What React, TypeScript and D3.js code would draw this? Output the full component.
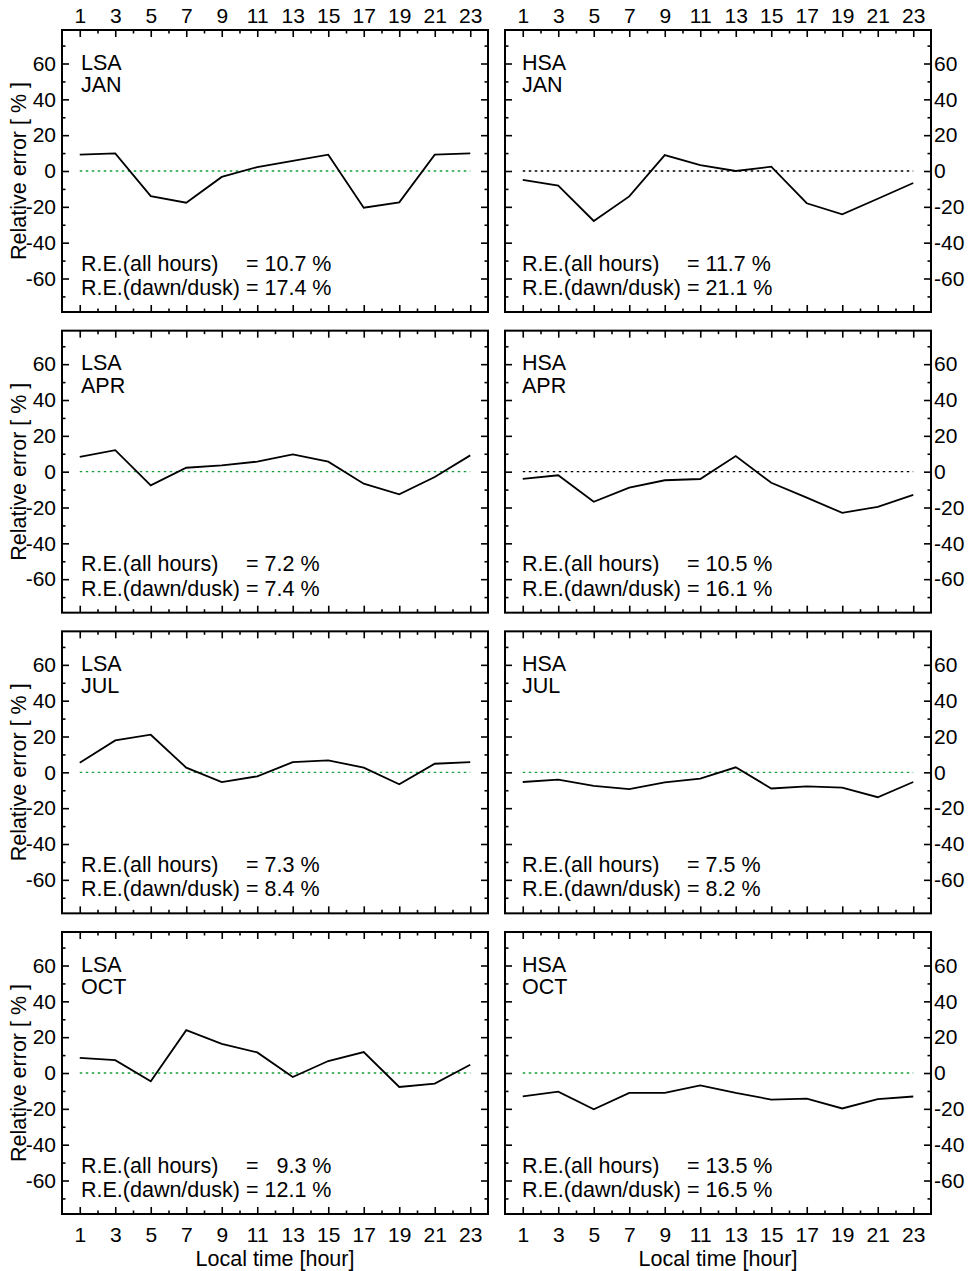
import { useEffect, useRef } from 'react';
import * as d3 from 'd3';

// local time of each sample [hour]
const hours = [1, 3, 5, 7, 9, 11, 13, 15, 17, 19, 21, 23];
const months = ['JAN', 'APR', 'JUL', 'OCT'];

// relative error [%] per local hour
const lsaJan = [9.1, 9.8, -14, -17.7, -3.3, 2.2, 5.7, 9.1, -20.5, -17.5, 9.1, 9.8];
const hsaJan = [-5, -8.2, -27.9, -14.2, 8.9, 3.3, 0, 2.4, -18, -24.2, -15.5, -6.7];
const lsaApr = [8.3, 12, -7.6, 2.2, 3.5, 5.6, 9.6, 5.6, -6.7, -12.6, -3, 9.1];
const hsaApr = [-4, -2, -16.8, -8.9, -4.8, -4.1, 8.7, -6.2, -14.5, -23, -19.6, -12.9];
const lsaJul = [5.4, 17.8, 21, 2.6, -5.4, -2.2, 5.7, 6.7, 2.6, -6.7, 4.8, 5.7];
const hsaJul = [-5.4, -4.1, -7.6, -9.4, -5.6, -3.5, 2.8, -9, -7.8, -8.5, -13.9, -5.4];
const lsaOct = [8.5, 7.2, -4.6, 23.9, 16.3, 11.5, -2.2, 6.7, 11.7, -7.8, -5.9, 4.6];
const hsaOct = [-13, -10.4, -20.2, -11.1, -11.1, -6.9, -11.1, -14.8, -14.3, -19.8, -14.6, -13.1];

// R.E. summary values
const lsaAllHours = ['10.7', '7.2', '7.3', '9.3'];
const lsaDawnDusk = ['17.4', '7.4', '8.4', '12.1'];
const hsaAllHours = ['11.7', '10.5', '7.5', '13.5'];
const hsaDawnDusk = ['21.1', '16.1', '8.2', '16.5'];

// zero reference line drawn green (true) or black (false)
const lsaZeroGreen = [true, true, true, true];
const hsaZeroGreen = [false, false, true, true];

const yTicks = [-60, -40, -20, 0, 20, 40, 60];
const yMinor = [-70, -50, -30, -10, 10, 30, 50, 70];
const xMinor = [2, 4, 6, 8, 10, 12, 14, 16, 18, 20, 22];

const FONT = '"Liberation Sans", Arial, Helvetica, sans-serif';

export default function App() {
  const ref = useRef<SVGSVGElement | null>(null);

  useEffect(() => {
    const svg = d3.select(ref.current);
    svg.selectAll('*').remove();

    const W = 426;
    const H = 282;
    const lefts = [62, 505];
    const tops = months.map((_, i) => 30 + i * 300.67);

    const x = d3.scaleLinear().domain([0, 24]).range([0, W]);
    const y = d3.scaleLinear().domain([-78.7, 78.7]).range([H, 0]);

    const lsa = [lsaJan, lsaApr, lsaJul, lsaOct];
    const hsa = [hsaJan, hsaApr, hsaJul, hsaOct];

    const panels: any[] = [];
    months.forEach((m, r) => {
      panels.push({ col: 0, row: r, tag: 'LSA', month: m, values: lsa[r], all: lsaAllHours[r], dawn: lsaDawnDusk[r], green: lsaZeroGreen[r] });
      panels.push({ col: 1, row: r, tag: 'HSA', month: m, values: hsa[r], all: hsaAllHours[r], dawn: hsaDawnDusk[r], green: hsaZeroGreen[r] });
    });

    const line = d3
      .line<number>()
      .x((_d, i) => x(hours[i]))
      .y((d) => y(d));

    const fmt = (d: any) => String(d); // plain hyphen minus, as in the original

    const styleAxis = (g: any, labels: boolean) => {
      g.select('.domain').remove();
      g.selectAll('line').attr('stroke', '#000').attr('stroke-width', 1.6);
      g.selectAll('text')
        .attr('fill', '#000')
        .style('font-family', FONT)
        .style('font-size', '21px');
      if (!labels) g.selectAll('text').remove();
    };

    panels.forEach((p) => {
      const g = svg
        .append('g')
        .attr('transform', `translate(${lefts[p.col]},${tops[p.row]})`);

      // zero reference
      g.append('line')
        .attr('x1', x(1))
        .attr('x2', x(23))
        .attr('y1', y(0))
        .attr('y2', y(0))
        .attr('stroke', p.green ? '#15a03a' : '#000')
        .attr('stroke-width', 1.3)
        .attr('stroke-dasharray', '2.5,3.5');

      // y axes, ticks inward
      const leftLabels = p.col === 0;
      g.append('g')
        .call(d3.axisLeft(y).tickValues(yTicks).tickSize(-7).tickPadding(6).tickFormat(fmt))
        .call((a: any) => styleAxis(a, leftLabels));
      g.append('g')
        .call(d3.axisLeft(y).tickValues(yMinor).tickSize(-3.5).tickFormat(() => ''))
        .call((a: any) => styleAxis(a, false));
      g.append('g')
        .attr('transform', `translate(${W},0)`)
        .call(d3.axisRight(y).tickValues(yTicks).tickSize(-7).tickPadding(3).tickFormat(fmt))
        .call((a: any) => styleAxis(a, !leftLabels));
      g.append('g')
        .attr('transform', `translate(${W},0)`)
        .call(d3.axisRight(y).tickValues(yMinor).tickSize(-3.5).tickFormat(() => ''))
        .call((a: any) => styleAxis(a, false));

      // x axes, ticks inward
      g.append('g')
        .call(d3.axisTop(x).tickValues(hours).tickSize(-7).tickPadding(7).tickFormat(fmt))
        .call((a: any) => styleAxis(a, p.row === 0));
      g.append('g')
        .call(d3.axisTop(x).tickValues(xMinor).tickSize(-3.5).tickFormat(() => ''))
        .call((a: any) => styleAxis(a, false));
      g.append('g')
        .attr('transform', `translate(0,${H})`)
        .call(d3.axisBottom(x).tickValues(hours).tickSize(-7).tickPadding(13).tickFormat(fmt))
        .call((a: any) => styleAxis(a, p.row === 3));
      g.append('g')
        .attr('transform', `translate(0,${H})`)
        .call(d3.axisBottom(x).tickValues(xMinor).tickSize(-3.5).tickFormat(() => ''))
        .call((a: any) => styleAxis(a, false));

      // frame
      g.append('rect')
        .attr('width', W)
        .attr('height', H)
        .attr('fill', 'none')
        .attr('stroke', '#000')
        .attr('stroke-width', 2);

      // data
      g.append('path')
        .datum(p.values)
        .attr('d', line)
        .attr('fill', 'none')
        .attr('stroke', '#000')
        .attr('stroke-width', 1.8)
        .attr('stroke-linejoin', 'miter');

      // labels
      const tx = p.col === 0 ? 19 : 17;
      const txt = (s: string, xx: number, yy: number) =>
        g.append('text')
          .attr('x', xx)
          .attr('y', yy)
          .style('font-family', FONT)
          .style('font-size', '21.5px')
          .style('white-space', 'pre')
          .attr('fill', '#000')
          .text(s);
      txt(p.tag, tx, 39.5);
      txt(p.month, tx, 62);
      const pad = (v: string, o: string) => '  '.repeat(Math.max(0, o.length - v.length)) + v;
      const eq = 165;
      txt('R.E.(all hours)', tx, 240.5);
      txt(`= ${pad(p.all, p.dawn)} %`, tx + eq, 240.5);
      txt('R.E.(dawn/dusk)', tx, 265);
      txt(`= ${pad(p.dawn, p.all)} %`, tx + eq, 265);
    });

    // y axis titles
    tops.forEach((t) => {
      svg.append('text')
        .attr('transform', `translate(26,${t + H / 2}) rotate(-90)`)
        .attr('text-anchor', 'middle')
        .style('font-family', FONT)
        .style('font-size', '21.5px')
        .text('Relative error [ % ]');
    });

    // x axis titles
    lefts.forEach((l) => {
      svg.append('text')
        .attr('x', l + W / 2)
        .attr('y', 1266)
        .attr('text-anchor', 'middle')
        .style('font-family', FONT)
        .style('font-size', '21.5px')
        .text('Local time [hour]');
    });
  }, []);

  return (
    <svg
      ref={ref}
      width={970}
      height={1271}
      style={{ position: 'absolute', left: 0, top: 0, background: '#fff' }}
    />
  );
}
